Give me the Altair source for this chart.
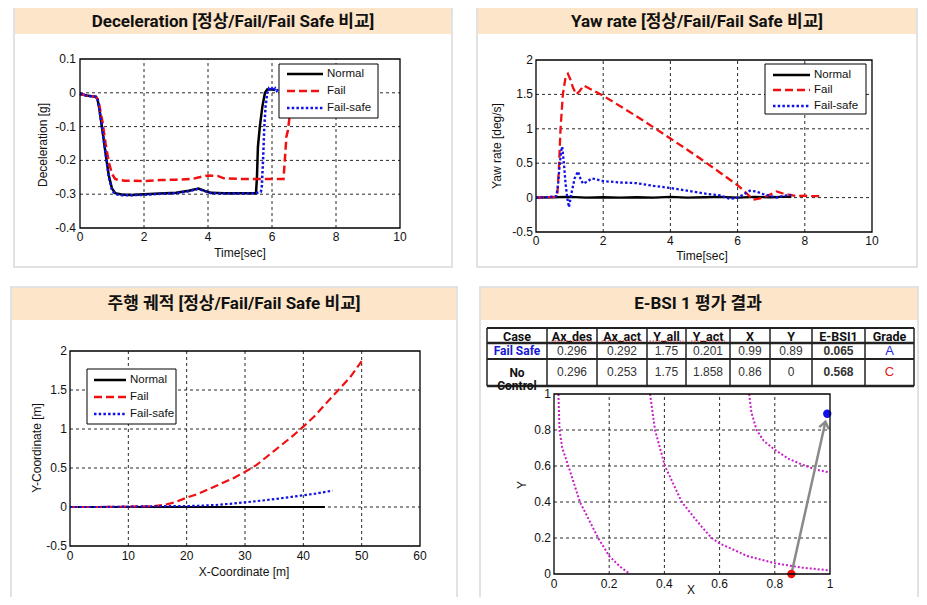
import math
import altair as alt
import pandas as pd

# ------------------------------------------------------------------ data
SERIES = ["Normal", "Fail", "Fail-safe"]

# Panel 1 : Deceleration [g] vs Time [sec]
DEC_NORMAL_T = [0, 0.2, 0.5, 0.55, 0.6, 0.7, 0.8, 0.9, 1.0, 1.1, 1.3, 1.6, 2.0, 2.5, 3.0, 3.4, 3.7,
                3.9, 4.1, 4.5, 5.0, 5.5, 5.53, 5.56, 5.62, 5.7, 5.78, 5.85, 6.0, 6.1]
DEC_NORMAL_V = [-0.003, -0.008, -0.012, -0.02, -0.045, -0.11, -0.18, -0.245, -0.283, -0.297, -0.301,
                -0.302, -0.3, -0.298, -0.296, -0.29, -0.283, -0.29, -0.296, -0.297, -0.297, -0.297,
                -0.25, -0.16, -0.1, -0.04, 0.0, 0.01, 0.01, 0.008]
DEC_FAIL_T = [0, 0.2, 0.5, 0.55, 0.6, 0.7, 0.8, 0.9, 1.0, 1.1, 1.2, 1.4, 2.0, 2.5, 3.0, 3.5, 3.8, 4.0,
              4.3, 4.5, 5.0, 5.5, 6.0, 6.36, 6.4, 6.45, 6.5, 6.55, 6.6, 6.65]
DEC_FAIL_V = [-0.003, -0.008, -0.012, -0.02, -0.035, -0.085, -0.15, -0.205, -0.24, -0.255, -0.258,
              -0.26, -0.261, -0.258, -0.257, -0.255, -0.248, -0.245, -0.246, -0.253, -0.255, -0.255,
              -0.255, -0.255, -0.2, -0.13, -0.11, -0.07, -0.03, 0.0]
DEC_SAFE_T = [0, 0.2, 0.5, 0.55, 0.6, 0.7, 0.8, 0.9, 1.0, 1.1, 1.3, 1.6, 2.0, 2.5, 3.0, 3.4, 3.7, 3.9,
              4.1, 4.5, 5.0, 5.5, 5.65, 5.68, 5.72, 5.76, 5.8, 5.85, 5.9, 5.95, 6.0, 6.05, 6.1, 6.15,
              6.2, 6.25]
DEC_SAFE_V = [-0.003, -0.008, -0.012, -0.02, -0.045, -0.11, -0.18, -0.25, -0.288, -0.3, -0.303,
              -0.303, -0.302, -0.299, -0.297, -0.291, -0.284, -0.291, -0.297, -0.298, -0.298, -0.297,
              -0.293, -0.28, -0.2, -0.1, -0.04, 0.0, 0.012, 0.006, 0.013, 0.006, 0.013, 0.006,
              0.012, 0.008]
DEC_XTICKS = [0, 2, 4, 6, 8, 10]
DEC_YTICKS = [-0.4, -0.3, -0.2, -0.1, 0, 0.1]

# Panel 2 : Yaw rate [deg/s] vs Time [sec]
YAW_NORMAL_T = [0, 0.5, 1.0, 1.5, 2.0, 2.5, 3.0, 3.5, 4.0, 4.5, 5.0, 5.5, 6.0, 6.5, 7.0, 7.3, 7.6]
YAW_NORMAL_V = [0, 0.005, 0.01, 0.0, 0.005, 0.0, 0.005, 0.0, 0.01, 0.0, 0.005, 0.01, 0.0, 0.01,
                0.005, 0.01, 0.01]
YAW_FAIL_T = [0, 0.3, 0.6, 0.63, 0.68, 0.73, 0.8, 0.88, 0.95, 1.02, 1.1, 1.2, 1.3, 1.42, 2.0, 3.0,
              4.0, 5.0, 6.0, 6.21, 6.4, 6.46, 6.6, 6.76, 6.95, 7.16, 7.35, 7.55, 7.75, 8.0, 8.2, 8.45]
YAW_FAIL_V = [0, 0.005, 0.01, 0.02, 0.4, 1.0, 1.5, 1.75, 1.8, 1.72, 1.6, 1.5, 1.55, 1.63, 1.48, 1.18,
              0.86, 0.53, 0.18, 0.09, 0.0, -0.03, -0.02, 0.0, 0.04, 0.09, 0.06, 0.04, 0.02, 0.03,
              0.02, 0.02]
YAW_SAFE_T = [0, 0.3, 0.6, 0.65, 0.7, 0.75, 0.78, 0.83, 0.88, 0.93, 0.98, 1.05, 1.15, 1.25, 1.32,
              1.4, 1.55, 1.66, 2.0, 2.5, 3.0, 3.5, 4.0, 4.5, 5.0, 5.5, 5.77, 6.0, 6.2, 6.36, 6.55,
              6.76, 7.0, 7.16, 7.4, 7.6]
YAW_SAFE_V = [0, 0.005, 0.02, 0.15, 0.45, 0.68, 0.74, 0.5, 0.2, 0.0, -0.14, 0.05, 0.28, 0.38, 0.28,
              0.2, 0.24, 0.28, 0.24, 0.22, 0.21, 0.17, 0.14, 0.1, 0.06, 0.03, -0.02, 0.0, 0.05, 0.1,
              0.09, 0.05, 0.02, 0.0, 0.03, 0.04]
YAW_XTICKS = [0, 2, 4, 6, 8, 10]
YAW_YTICKS = [-0.5, 0, 0.5, 1, 1.5, 2]

# Panel 3 : driving trajectory, Y-Coordinate [m] vs X-Coordinate [m]
TRJ_NORMAL_X = [0, 5, 10, 15, 20, 25, 30, 35, 40, 43.7]
TRJ_NORMAL_Y = [0, 0, 0, 0, 0, 0, 0, 0, 0, 0]
TRJ_FAIL_X = [0, 5, 10, 14, 16, 18, 20, 22, 25, 28, 30, 32, 35, 38, 40, 42, 45, 48, 50]
TRJ_FAIL_Y = [0, 0, 0.005, 0.01, 0.025, 0.06, 0.12, 0.17, 0.27, 0.37, 0.45, 0.54, 0.72, 0.9, 1.03,
              1.17, 1.42, 1.66, 1.87]
TRJ_SAFE_X = [0, 5, 10, 15, 20, 22, 25, 28, 30, 32, 35, 38, 40, 42, 45]
TRJ_SAFE_Y = [0, 0, 0.005, 0.01, 0.012, 0.016, 0.026, 0.045, 0.06, 0.075, 0.1, 0.13, 0.15, 0.17,
              0.21]
TRJ_XTICKS = [0, 10, 20, 30, 40, 50, 60]
TRJ_YTICKS = [-0.5, 0, 0.5, 1, 1.5, 2]

# Panel 4 : E-BSI 1 evaluation
TABLE_HEADER = ["Case", "Ax_des", "Ax_act", "Y_all", "Y_act", "X", "Y", "E-BSI1", "Grade"]
TABLE_ROWS = [
    ["Fail Safe", "0.296", "0.292", "1.75", "0.201", "0.99", "0.89", "0.065", "A"],
    ["No\nControl", "0.296", "0.253", "1.75", "1.858", "0.86", "0", "0.568", "C"],
]
EBSI_CASE = ["Fail Safe", "No Control"]
EBSI_X = [0.99, 0.86]
EBSI_Y = [0.89, 0.0]
ISO_1_X = [0.016, 0.02, 0.03, 0.052, 0.094, 0.16, 0.2, 0.24, 0.275]
ISO_1_Y = [1.0, 0.8, 0.7, 0.6, 0.4, 0.2, 0.1, 0.04, 0.0]
ISO_2_X = [0.348, 0.366, 0.402, 0.463, 0.52, 0.571, 0.6, 0.7, 0.8, 0.9, 1.0]
ISO_2_Y = [1.0, 0.8, 0.6, 0.4, 0.29, 0.2, 0.17, 0.1, 0.06, 0.035, 0.02]
ISO_3_X = [0.707, 0.715, 0.734, 0.76, 0.8, 0.85, 0.9, 0.95, 0.995]
ISO_3_Y = [1.0, 0.9, 0.8, 0.74, 0.69, 0.64, 0.607, 0.58, 0.565]
EBSI_TICKS = [0, 0.2, 0.4, 0.6, 0.8, 1]

# ------------------------------------------------------------------ styles / layout
W, H = 911, 589
M = 8  # page margin


def PX(p):
    return p - M


def PY(p):
    return max(p - M, 0)


FONT = "Liberation Sans, Arial, sans-serif"
HEAD_FONT = "Roboto, Noto Sans CJK KR, sans-serif"
TITLE_FONT = "Roboto, Noto Sans CJK KR, sans-serif"
BANNER = "#FCE5C8"
BORDER = "#D9D9D9"
COLORS = {"Normal": "#000000", "Fail": "#F01010", "Fail-safe": "#1010E8"}
DASHES = {"Normal": [1, 0], "Fail": [8, 4], "Fail-safe": [2.5, 2.2]}
ONE = pd.DataFrame({"k": [0]})
TXT = dict(font=FONT, fontSize=12, color="#111")


def df_xy(xs, ys):
    return pd.DataFrame({"x": xs, "y": ys, "i": list(range(len(xs)))})


def vrect(x0, y0, x1, y1, **kw):
    return alt.Chart(ONE).mark_rect(**kw).encode(
        x=alt.value(PX(x0)), x2=alt.value(PX(x1)), y=alt.value(PY(y0)), y2=alt.value(PY(y1)))


def vtext(x, y, txt, **kw):
    return alt.Chart(ONE).mark_text(**kw).encode(
        x=alt.value(PX(x)), y=alt.value(PY(y)), text=alt.value(txt))


def vhline(x0, x1, y, **kw):
    return alt.Chart(ONE).mark_rule(**kw).encode(
        x=alt.value(PX(x0)), x2=alt.value(PX(x1)), y=alt.value(PY(y)))


def vvline(x, y0, y1, **kw):
    return alt.Chart(ONE).mark_rule(**kw).encode(
        x=alt.value(PX(x)), y=alt.value(PY(y0)), y2=alt.value(PY(y1)))


def legend(box, rows, line_x, label_x, width, fs=11.5):
    layers = [vrect(*box, fill="white", stroke="black", strokeWidth=1)]
    for s, ry in zip(SERIES, rows):
        layers.append(vhline(line_x[0], line_x[1], ry, color=COLORS[s], strokeDash=DASHES[s],
                             strokeWidth=width))
        layers.append(vtext(label_x, ry, s, align="left", baseline="middle", font=FONT,
                            fontSize=fs, color="#111"))
    return layers


def fmt(v):
    return f"{v:g}"


def panel(curves, xdom, ydom, xpx, ypx, xticks, yticks, xtitle, ytitle,
          xlab_y, ylab_x, xtitle_xy, ytitle_xy, extra=None):
    sx = alt.Scale(domain=xdom, range=[PX(xpx[0]), PX(xpx[1])], nice=False, zero=False)
    sy = alt.Scale(domain=ydom, range=[PY(ypx[0]), PY(ypx[1])], nice=False, zero=False)
    X = dict(scale=sx, axis=None)
    Y = dict(scale=sy, axis=None)

    gx = pd.DataFrame({"g": [v for v in xticks if v not in xdom]})
    gx["lo"], gx["hi"] = ydom[0], ydom[1]
    gy = pd.DataFrame({"g": [v for v in yticks if v not in ydom]})
    gy["lo"], gy["hi"] = xdom[0], xdom[1]
    grid_style = dict(color="#111", strokeDash=[3, 3], strokeWidth=0.9)
    layers = [
        alt.Chart(gx).mark_rule(**grid_style).encode(
            x=alt.X("g:Q", **X), y=alt.Y("lo:Q", **Y), y2="hi:Q"),
        alt.Chart(gy).mark_rule(**grid_style).encode(
            y=alt.Y("g:Q", **Y), x=alt.X("lo:Q", **X), x2="hi:Q"),
    ]
    for df, style in curves:
        layers.append(alt.Chart(df).mark_line(**style).encode(
            x=alt.X("x:Q", **X), y=alt.Y("y:Q", **Y), order="i:Q"))
    if extra:
        layers += extra(sx, sy)
    frame_df = pd.DataFrame({"x0": [xdom[0]], "x1": [xdom[1]], "y0": [ydom[0]], "y1": [ydom[1]]})
    layers.append(alt.Chart(frame_df).mark_rect(filled=False, color="black", strokeWidth=1.3).encode(
        x=alt.X("x0:Q", **X), x2="x1:Q", y=alt.Y("y0:Q", **Y), y2="y1:Q"))

    # tick labels, drawn through the panel scales
    xl = pd.DataFrame({"v": xticks, "t": [fmt(v) for v in xticks]})
    yl = pd.DataFrame({"v": yticks, "t": [fmt(v) for v in yticks]})
    layers.append(alt.Chart(xl).mark_text(align="center", baseline="middle", **TXT).encode(
        x=alt.X("v:Q", **X), y=alt.value(PY(xlab_y)), text="t:N"))
    layers.append(alt.Chart(yl).mark_text(align="right", baseline="middle", **TXT).encode(
        y=alt.Y("v:Q", **Y), x=alt.value(PX(ylab_x)), text="t:N"))
    # axis titles
    layers.append(vtext(xtitle_xy[0], xtitle_xy[1], xtitle, align="center", baseline="middle", **TXT))
    layers.append(vtext(ytitle_xy[0], ytitle_xy[1], ytitle, align="center", baseline="middle",
                        angle=270, **TXT))
    return layers


def series_curves(xs_list, ys_list, width):
    out = []
    for s, xs, ys in zip(SERIES, xs_list, ys_list):
        st = dict(color=COLORS[s], strokeWidth=width)
        if s != "Normal":
            st["strokeDash"] = DASHES[s]
        out.append((df_xy(xs, ys), st))
    return out


# ------------------------------------------------------------------ background panels
bg = [
    vrect(14, 5, 452, 267, fill="white", stroke=BORDER, strokeWidth=1.5),
    vrect(477, 5, 917, 267, fill="white", stroke=BORDER, strokeWidth=1.5),
    vrect(11, 287, 457, 620, fill="white", stroke=BORDER, strokeWidth=1.5),
    vrect(480, 287, 918, 620, fill="white", stroke=BORDER, strokeWidth=1.5),
    vrect(15, 5, 451, 34, fill=BANNER),
    vrect(478, 5, 916, 34, fill=BANNER),
    vrect(12, 288, 456, 320, fill=BANNER),
    vrect(481, 288, 917, 320, fill=BANNER),
]
title_style = dict(font=TITLE_FONT, fontSize=17, fontWeight="bold", color="#111",
                   align="center", baseline="middle")
bg += [
    vtext(233, 21.5, "Deceleration [정상/Fail/Fail Safe 비교]", **title_style),
    vtext(697, 21.5, "Yaw rate [정상/Fail/Fail Safe 비교]", **title_style),
    vtext(234, 304, "주행 궤적 [정상/Fail/Fail Safe 비교]", **title_style),
    vtext(698, 304, "E-BSI 1 평가 결과", **title_style),
]

# ------------------------------------------------------------------ panel 1
p1 = panel(series_curves([DEC_NORMAL_T, DEC_FAIL_T, DEC_SAFE_T],
                         [DEC_NORMAL_V, DEC_FAIL_V, DEC_SAFE_V], 2.5),
           [0, 10], [-0.4, 0.1], (80, 400), (228, 59), DEC_XTICKS, DEC_YTICKS,
           "Time[sec]", "Deceleration [g]",
           xlab_y=237, ylab_x=76, xtitle_xy=(240, 253), ytitle_xy=(43, 145))
p1 += legend((279, 64, 378, 118), [74, 91, 108], (287, 323), 327, 2.5)

# ------------------------------------------------------------------ panel 2
p2 = panel(series_curves([YAW_NORMAL_T, YAW_FAIL_T, YAW_SAFE_T],
                         [YAW_NORMAL_V, YAW_FAIL_V, YAW_SAFE_V], 2.3),
           [0, 10], [-0.5, 2], (536, 872), (232, 60), YAW_XTICKS, YAW_YTICKS,
           "Time[sec]", "Yaw rate [deg/s]",
           xlab_y=241, ylab_x=533, xtitle_xy=(702, 256), ytitle_xy=(497, 146))
p2 += legend((765, 64, 866, 114), [75, 90, 106], (773, 810), 814, 2.5)

# ------------------------------------------------------------------ panel 3
p3 = panel(series_curves([TRJ_NORMAL_X, TRJ_FAIL_X, TRJ_SAFE_X],
                         [TRJ_NORMAL_Y, TRJ_FAIL_Y, TRJ_SAFE_Y], 2.2),
           [0, 60], [-0.5, 2], (70, 420), (546, 351), TRJ_XTICKS, TRJ_YTICKS,
           "X-Coordinate [m]", "Y-Coordinate [m]",
           xlab_y=556, ylab_x=67, xtitle_xy=(244, 572), ytitle_xy=(37, 448))
p3 += legend((87, 369, 176, 424), [380, 397, 414], (94, 126), 130, 2.5)


# ------------------------------------------------------------------ panel 4
def ebsi_extra(sx, sy):
    pts = pd.DataFrame({"case": EBSI_CASE, "x": EBSI_X, "y": EBSI_Y})
    start = (EBSI_X[1], EBSI_Y[1])
    end = (EBSI_X[0], EBSI_Y[0])
    frac = 0.95
    tip = (start[0] + frac * (end[0] - start[0]), start[1] + frac * (end[1] - start[1]))
    arrow = pd.DataFrame({"x": [start[0], tip[0]], "y": [start[1], tip[1]], "i": [0, 1]})
    head = pd.DataFrame({"x": [tip[0]], "y": [tip[1]]})
    ang = math.degrees(math.atan2((end[0] - start[0]) * (830 - 554),
                                  (end[1] - start[1]) * (574 - 394)))
    xs = dict(scale=sx, axis=None)
    ys = dict(scale=sy, axis=None)
    return [
        alt.Chart(arrow).mark_line(color="#8A8A8A", strokeWidth=2.5).encode(
            x=alt.X("x:Q", **xs), y=alt.Y("y:Q", **ys), order="i:Q"),
        alt.Chart(head).mark_point(shape="M-0.75,1L0,0L0.75,1", filled=False, color="#8A8A8A",
                                   strokeWidth=2.5, size=170, angle=ang, opacity=1).encode(
            x=alt.X("x:Q", **xs), y=alt.Y("y:Q", **ys)),
        alt.Chart(pts).mark_point(filled=True, size=70, opacity=1, shape="circle").encode(
            x=alt.X("x:Q", **xs), y=alt.Y("y:Q", **ys),
            color=alt.Color("case:N", scale=alt.Scale(domain=EBSI_CASE,
                                                      range=["#1010F0", "#F01010"]),
                            legend=None)),
    ]


iso_style = dict(color="#C81EC8", strokeDash=[2, 2], strokeWidth=2)
p4 = panel([(df_xy(ISO_1_X, ISO_1_Y), iso_style), (df_xy(ISO_2_X, ISO_2_Y), iso_style),
            (df_xy(ISO_3_X, ISO_3_Y), iso_style)],
           [0, 1], [0, 1], (554, 830), (574, 394), EBSI_TICKS, EBSI_TICKS,
           "X", "Y", xlab_y=584, ylab_x=551, xtitle_xy=(691, 590), ytitle_xy=(522, 485),
           extra=ebsi_extra)

# ------------------------------------------------------------------ table
COL_EDGES = [487, 547, 597, 647, 686, 730, 770, 812, 865, 914]
ROW_EDGES = [328, 343, 359, 386]
ROW_CENTERS = [336, 351, 372]
tbl = []
for y, w in zip(ROW_EDGES, [2, 2.5, 2, 2.5]):
    tbl.append(vhline(COL_EDGES[0], COL_EDGES[-1], y, color="#222", strokeWidth=w))
for x in COL_EDGES:
    tbl.append(vvline(x, ROW_EDGES[0], ROW_EDGES[-1], color="#222", strokeWidth=1.5))
centers = [(a + b) / 2 for a, b in zip(COL_EDGES[:-1], COL_EDGES[1:])]
for cx, h in zip(centers, TABLE_HEADER):
    tbl.append(vtext(cx, ROW_CENTERS[0] + 1, h, font=HEAD_FONT, fontSize=12.5, fontWeight="bold",
                     color="#111", align="center", baseline="middle"))
# spell-check squiggles under the underscored headers
for cx, h in zip(centers, TABLE_HEADER):
    if "_" in h:
        half = 3.4 * len(h)
        tbl.append(vhline(cx - half, cx + half, 341, color="#E03030", strokeDash=[1.5, 1.5],
                          strokeWidth=1.2))
case_colors = ["#1818D0", "#111111"]
grade_colors = ["#2828E0", "#E02020"]
for r, row in enumerate(TABLE_ROWS):
    cy = ROW_CENTERS[r + 1]
    for c, (cx, val) in enumerate(zip(centers, row)):
        if c == 0:
            tbl.append(vtext(cx, cy + (0 if r == 0 else 1), val, font=HEAD_FONT, fontSize=12,
                             fontWeight="bold", color=case_colors[r], align="center",
                             baseline="middle", lineBreak="\n", lineHeight=13))
        elif c == len(row) - 1:
            tbl.append(vtext(cx, cy, val, font=FONT, fontSize=13, color=grade_colors[r],
                             align="center", baseline="middle"))
        else:
            tbl.append(vtext(cx, cy, val, font=FONT, fontSize=12, color="#333",
                             fontWeight="bold" if c == 7 else "normal",
                             align="center", baseline="middle"))

# ------------------------------------------------------------------ assemble
chart = alt.layer(
    *bg, alt.layer(*p1), alt.layer(*p2), alt.layer(*p3), alt.layer(*p4), *tbl
).resolve_scale(
    x="independent", y="independent", color="independent"
).properties(
    width=W, height=H, autosize=alt.AutoSizeParams(type="none"), padding=0, background="white"
).configure_view(stroke=None)

chart.save("out.html", embed_options={"renderer": "svg", "actions": False})
